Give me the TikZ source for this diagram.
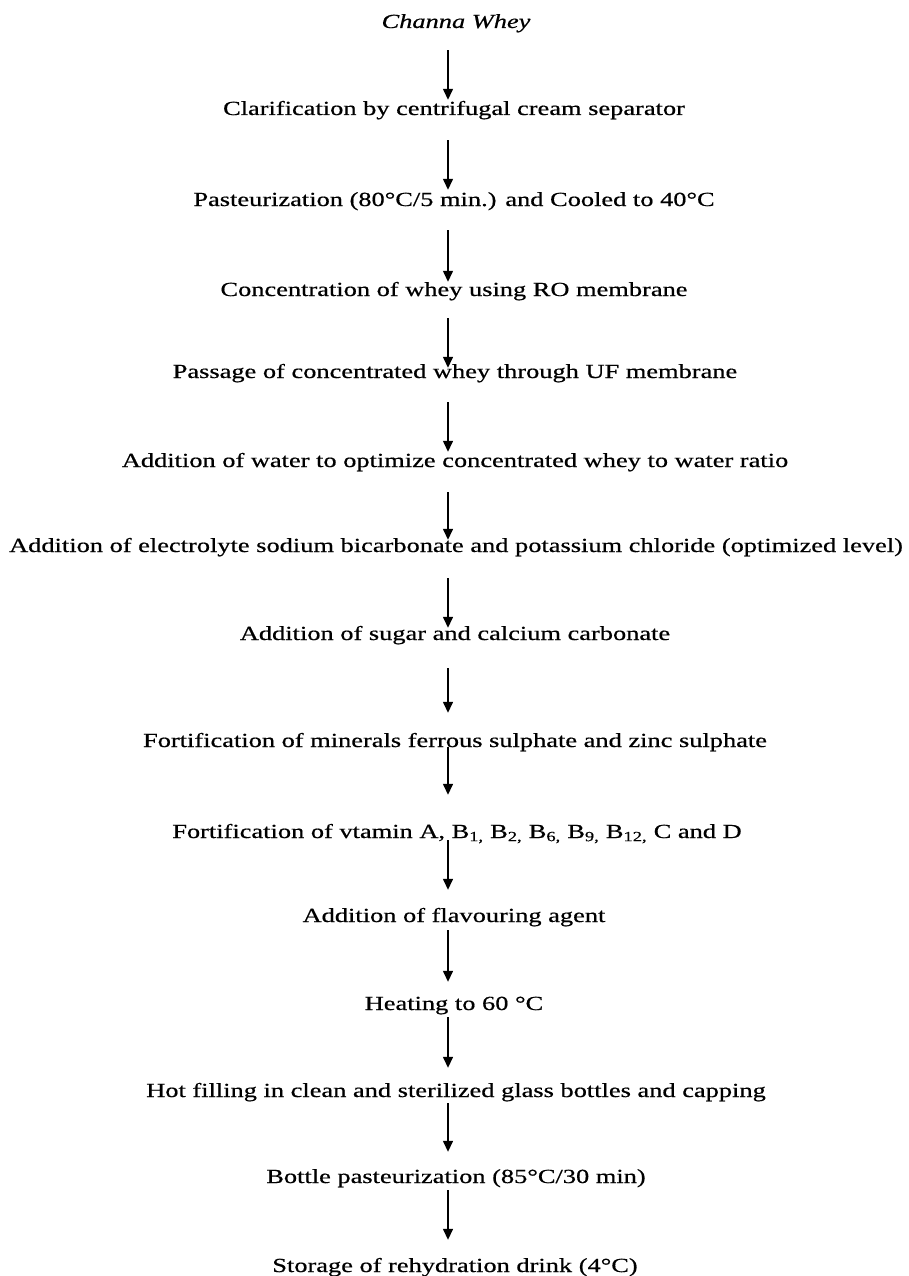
\documentclass[tikz,border=0pt]{standalone}
\usepackage{fontspec}
\setmainfont[FakeStretch=1.32,FakeBold=0.6,AutoFakeBold=false]{Liberation Serif}
\usetikzlibrary{arrows.meta}
\begin{document}
\begin{tikzpicture}[x=1pt,y=1pt,
  stepnode/.style={inner sep=0pt, text height=14pt, text depth=4pt, font=\fontsize{20}{24}\selectfont},
  arr/.style={line width=1.4pt, -{Triangle[length=11pt,width=10pt]}}]
\useasboundingbox (0,0) rectangle (909,-1276);
\coordinate (ax) at (448,0);
\node[stepnode] (n0) at (456,-23) {\textit{Channa Whey}};
\node[stepnode] (n1) at (454,-110) {Clarification by centrifugal cream separator};
\node[stepnode] (n2) at (454,-201) {Pasteurization (80°C/5 min.) and Cooled to 40°C};
\node[stepnode] (n3) at (454,-291) {Concentration of whey using RO membrane};
\node[stepnode] (n4) at (455,-373) {Passage of concentrated whey through UF membrane};
\node[stepnode] (n5) at (455,-462) {Addition of water to optimize concentrated whey to water ratio};
\node[stepnode] (n6) at (456,-547) {Addition of electrolyte sodium bicarbonate and potassium chloride (optimized level)};
\node[stepnode] (n7) at (455,-635) {Addition of sugar and calcium carbonate};
\node[stepnode] (n8) at (455,-742) {Fortification of minerals ferrous sulphate and zinc sulphate};
\node[stepnode] (n9) at (457,-833) {Fortification of vtamin A, B\textsubscript{1,} B\textsubscript{2,} B\textsubscript{6,} B\textsubscript{9,} B\textsubscript{12,} C and D};
\node[stepnode] (n10) at (454,-917) {Addition of flavouring agent};
\node[stepnode] (n11) at (454,-1005) {Heating to 60 °C};
\node[stepnode] (n12) at (456,-1092) {Hot filling in clean and sterilized glass bottles and capping};
\node[stepnode] (n13) at (456,-1178) {Bottle pasteurization (85°C/30 min)};
\node[stepnode] (n14) at (455,-1267) {Storage of rehydration drink (4°C)};
\foreach \i/\j/\a/\b in {0/1/18/1, 1/2/21/2, 2/3/20/0, 3/4/18/-4, 4/5/20/1, 5/6/21/-2, 6/7/22/-2, 7/8/24/20, 8/9/-4/29, 9/10/-2/18, 10/11/4/14, 11/12/3/15, 12/13/2/17, 13/14/3/18}
  \draw[arr, shorten <=\a pt, shorten >=\b pt] (n\i.south -| ax) -- (n\j.north -| ax);
\end{tikzpicture}
\end{document}
